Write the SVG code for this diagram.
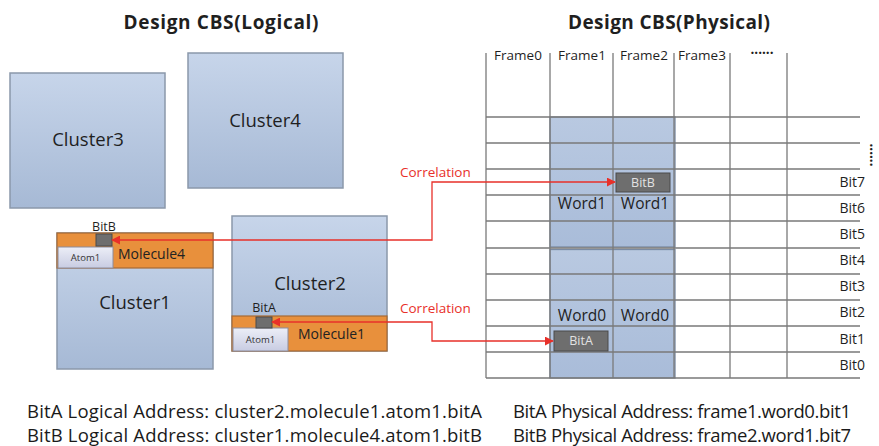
<svg xmlns="http://www.w3.org/2000/svg" width="879" height="446" viewBox="0 0 879 446">
  <defs>
    <linearGradient id="clusterFill" x1="0" y1="0" x2="0" y2="1">
      <stop offset="0" stop-color="#c7d5ea"/>
      <stop offset="1" stop-color="#a6b9d5"/>
    </linearGradient>
    <linearGradient id="atomFill" x1="0" y1="0" x2="0" y2="1">
      <stop offset="0" stop-color="#eceef7"/>
      <stop offset="1" stop-color="#c8cce2"/>
    </linearGradient>
    <linearGradient id="wordFill" x1="0" y1="0" x2="0" y2="1">
      <stop offset="0" stop-color="#b9c9e1"/>
      <stop offset="1" stop-color="#a9bcd9"/>
    </linearGradient>
    <marker id="arrow" viewBox="0 0 10 10" refX="9" refY="5" markerWidth="9" markerHeight="9" markerUnits="userSpaceOnUse" orient="auto-start-reverse">
      <path d="M0,0 L10,5 L0,10 z" fill="#e8302a"/>
    </marker>
    <style>
      text { font-family: "Open Sans", "Liberation Sans", sans-serif; fill: #1f1f1f; }
      .title { font-weight: bold; font-size: 19px; text-anchor: middle; }
      .cluster { fill: url(#clusterFill); stroke: #8b98aa; stroke-width: 1.5; }
      .clabel { font-size: 18.5px; text-anchor: middle; }
      .molecule { fill: #e8903c; stroke: #a66a34; stroke-width: 1.2; }
      .mlabel { font-size: 14px; fill: #222222; }
      .atom { fill: url(#atomFill); stroke: #8c8c9c; stroke-width: 1; }
      .alabel { font-size: 9.5px; fill: #333333; text-anchor: middle; }
      .bit { fill: #6e6e6e; stroke: #4a4a4a; stroke-width: 1; }
      .bitText { font-size: 12.5px; fill: #e2e2e2; text-anchor: middle; }
      .blabel { font-size: 12.5px; text-anchor: middle; }
      .word { fill: url(#wordFill); stroke: #7a8ba4; stroke-width: 1.3; }
      .grid { stroke: #7a7a7a; stroke-width: 1.3; fill: none; }
      .frame { font-size: 13.5px; text-anchor: middle; }
      .dots { font-size: 13.5px; font-weight: bold; text-anchor: middle; }
      .wlabel { font-size: 15.5px; text-anchor: middle; }
      .bitRow { font-size: 14px; text-anchor: end; }
      .link { stroke: #e8302a; stroke-width: 1.3; fill: none; marker-start: url(#arrow); marker-end: url(#arrow); }
      .corr { font-size: 13.5px; fill: #e8302a; }
      .addr { font-size: 18.5px; fill: #1a1a1a; }
    </style>
  </defs>

  <rect width="879" height="446" fill="#ffffff"/>

  <!-- titles -->
  <text class="title" x="221" y="29" textLength="195">Design CBS(Logical)</text>
  <text class="title" x="669" y="29" textLength="202">Design CBS(Physical)</text>

  <!-- logical side: clusters -->
  <g id="cluster3">
    <rect class="cluster" x="10" y="73" width="155" height="135"/>
    <text class="clabel" x="88" y="146">Cluster3</text>
  </g>
  <g id="cluster4">
    <rect class="cluster" x="188" y="53" width="155" height="135"/>
    <text class="clabel" x="265" y="127">Cluster4</text>
  </g>
  <g id="cluster1">
    <rect class="cluster" x="57" y="233" width="156" height="136"/>
    <text class="clabel" x="135" y="309">Cluster1</text>
    <g id="molecule4">
      <rect class="molecule" x="57" y="233" width="156" height="35"/>
      <text class="mlabel" x="118" y="259">Molecule4</text>
    </g>
    <g id="atom1-c1">
      <rect class="atom" x="58" y="247" width="55" height="21"/>
      <text class="alabel" x="85.5" y="261">Atom1</text>
    </g>
    <g id="bitB-logical">
      <rect class="bit" x="96" y="234" width="16" height="12"/>
      <text class="blabel" x="104" y="231">BitB</text>
    </g>
  </g>
  <g id="cluster2">
    <rect class="cluster" x="232" y="216" width="155" height="135"/>
    <text class="clabel" x="310" y="290">Cluster2</text>
    <g id="molecule1">
      <rect class="molecule" x="232" y="316" width="155" height="35"/>
      <text class="mlabel" x="298" y="339">Molecule1</text>
    </g>
    <g id="atom1-c2">
      <rect class="atom" x="233" y="328" width="55" height="23"/>
      <text class="alabel" x="260.5" y="343">Atom1</text>
    </g>
    <g id="bitA-logical">
      <rect class="bit" x="256" y="317" width="16" height="11"/>
      <text class="blabel" x="264" y="312">BitA</text>
    </g>
  </g>

  <!-- physical side: frame/bit grid -->
  <g id="grid">
    <g id="word1">
      <rect class="word" x="550" y="117" width="125" height="130"/>
    </g>
    <g id="word0">
      <rect class="word" x="550" y="249.5" width="125" height="128.5"/>
    </g>
    <path class="grid" d="M486 53V378 M550 53V378 M613 53V378 M674 53V378 M730 53V378 M787 53V378"/>
    <path class="grid" d="M486 117H860 M486 143H860 M486 169H860 M486 195H860 M486 221H860 M486 248H860 M486 274H860 M486 300H860 M486 326H860 M486 352H860 M486 378H860"/>

    <text class="frame" x="518" y="60">Frame0</text>
    <text class="frame" x="582" y="60">Frame1</text>
    <text class="frame" x="644" y="60">Frame2</text>
    <text class="frame" x="702" y="60">Frame3</text>
    <text class="dots" x="762" y="58">······</text>
    <text class="dots" x="0" y="0" transform="translate(866 155) rotate(90)">······</text>

    <text class="wlabel" x="582" y="209">Word1</text>
    <text class="wlabel" x="645" y="209">Word1</text>
    <text class="wlabel" x="582" y="321">Word0</text>
    <text class="wlabel" x="645" y="321">Word0</text>

    <text class="bitRow" x="865" y="187">Bit7</text>
    <text class="bitRow" x="865" y="213">Bit6</text>
    <text class="bitRow" x="865" y="239">Bit5</text>
    <text class="bitRow" x="865" y="265">Bit4</text>
    <text class="bitRow" x="865" y="291">Bit3</text>
    <text class="bitRow" x="865" y="317">Bit2</text>
    <text class="bitRow" x="865" y="344">Bit1</text>
    <text class="bitRow" x="865" y="370">Bit0</text>

    <g id="bitB-physical">
      <rect class="bit" x="616" y="173" width="54" height="19"/>
      <text class="bitText" x="643" y="187">BitB</text>
    </g>
    <g id="bitA-physical">
      <rect class="bit" x="554" y="331" width="54" height="20"/>
      <text class="bitText" x="581" y="345">BitA</text>
    </g>
  </g>

  <!-- correlation connectors -->
  <g id="connectors">
    <path class="link" d="M112 240 H432 V182 H615"/>
    <path class="link" d="M272 322 H432 V341 H553"/>
    <text class="corr" x="400" y="177">Correlation</text>
    <text class="corr" x="400" y="313">Correlation</text>
  </g>

  <!-- address notes -->
  <text class="addr" x="27" y="418" textLength="455">BitA Logical Address: cluster2.molecule1.atom1.bitA</text>
  <text class="addr" x="27" y="442" textLength="455">BitB Logical Address: cluster1.molecule4.atom1.bitB</text>
  <text class="addr" x="513" y="418" textLength="338">BitA Physical Address: frame1.word0.bit1</text>
  <text class="addr" x="513" y="442" textLength="338">BitB Physical Address: frame2.word1.bit7</text>
</svg>
